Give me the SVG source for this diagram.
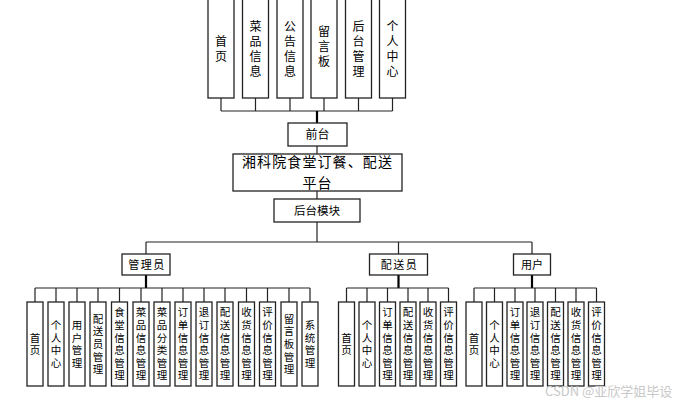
<svg xmlns="http://www.w3.org/2000/svg" width="674" height="404" viewBox="0 0 674 404">
<style>
.b{fill:#fff;stroke:#222;stroke-width:1.3}
.t{font-family:"Noto Sans CJK SC","Liberation Sans",sans-serif;fill:#000;text-anchor:middle}
.v{writing-mode:vertical-rl;text-anchor:middle}
.s{font-size:10.5px;letter-spacing:2.1px}
.m{font-size:12px;letter-spacing:3px}
.c{fill:none;stroke:#222;stroke-width:1.2}
.k{fill:none;stroke:#000;stroke-width:2.2}
</style>
<rect width="674" height="404" fill="#fff"/>
<g id="connectors">
<path class="c" d="M221 98V111M255.5 98V111M290 98V111M324 98V111M358.5 98V111M392.5 98V111M221 111H392.5"/>
<path class="k" d="M317 111V123"/>
<path class="c" d="M317 146V154M317 191V199M317 222V242M146 242H532M146 242V254M398.5 242V254M532 242V254"/>
<path class="k" d="M146 275V288M398.5 275V288M532 275V288"/>
<path class="c" d="M35 288H310M35 288V302M56 288V302M77 288V302M98 288V302M119.5 288V302M141 288V302M162 288V302M183 288V302M204 288V302M225 288V302M246.5 288V302M267.5 288V302M289 288V302M310 288V302"/>
<path class="c" d="M346.5 288H448.5M346.5 288V302M367 288V302M387.5 288V302M408 288V302M428 288V302M448.5 288V302"/>
<path class="c" d="M474 288H596.5M474 288V302M494.5 288V302M515 288V302M535 288V302M555.5 288V302M576 288V302M596.5 288V302"/>
</g>
<g id="top-shouye"><rect class="b" x="208" y="-2" width="26" height="100"/><text class="t v m" x="221" y="50">首页</text></g>
<g id="top-caipin"><rect class="b" x="242.5" y="-2" width="26" height="100"/><text class="t v m" x="255.5" y="50">菜品信息</text></g>
<g id="top-gonggao"><rect class="b" x="277" y="-2" width="26" height="100"/><text class="t v m" x="290" y="50">公告信息</text></g>
<g id="top-liuyan"><rect class="b" x="311" y="-2" width="26" height="100"/><text class="t v m" x="324" y="48">留言板</text></g>
<g id="top-houtai"><rect class="b" x="345.5" y="-2" width="26" height="100"/><text class="t v m" x="358.5" y="50">后台管理</text></g>
<g id="top-geren"><rect class="b" x="379.5" y="-2" width="26" height="100"/><text class="t v m" x="392.5" y="50">个人中心</text></g>
<g id="qiantai"><rect class="b" x="288" y="123" width="59" height="23"/><text class="t" style="font-size:12px" x="317.5" y="139">前台</text></g>
<g id="platform"><rect class="b" x="233" y="154" width="169" height="37"/><text class="t" style="font-size:14px;letter-spacing:1.1px"><tspan x="317.5" y="167">湘科院食堂订餐、配送</tspan><tspan x="317.5" y="188">平台</tspan></text></g>
<g id="houtai"><rect class="b" x="274" y="199" width="86" height="23"/><text class="t" style="font-size:11.5px" x="317" y="215">后台模块</text></g>
<g id="admin"><rect class="b" x="122" y="254" width="48" height="21"/><text class="t" style="font-size:11px;letter-spacing:1.5px" x="147" y="268.5">管理员</text></g>
<g id="courier"><rect class="b" x="369.5" y="254" width="58" height="21"/><text class="t" style="font-size:11px;letter-spacing:1.5px" x="399.5" y="268.5">配送员</text></g>
<g id="user"><rect class="b" x="513.5" y="254" width="37" height="21"/><text class="t" style="font-size:11px" x="532" y="268.5">用户</text></g>
<g id="a1"><rect class="b" x="27" y="302" width="16" height="84"/><text class="t v s" x="35" y="345">首页</text></g>
<g id="a2"><rect class="b" x="48" y="302" width="16" height="84"/><text class="t v s" x="56" y="345">个人中心</text></g>
<g id="a3"><rect class="b" x="69" y="302" width="16" height="84"/><text class="t v s" x="77" y="345">用户管理</text></g>
<g id="a4"><rect class="b" x="90" y="302" width="16" height="84"/><text class="t v s" x="98" y="345">配送员管理</text></g>
<g id="a5"><rect class="b" x="111.5" y="302" width="16" height="84"/><text class="t v s" x="119.5" y="345">食堂信息管理</text></g>
<g id="a6"><rect class="b" x="133" y="302" width="16" height="84"/><text class="t v s" x="141" y="345">菜品信息管理</text></g>
<g id="a7"><rect class="b" x="154" y="302" width="16" height="84"/><text class="t v s" x="162" y="345">菜品分类管理</text></g>
<g id="a8"><rect class="b" x="175" y="302" width="16" height="84"/><text class="t v s" x="183" y="345">订单信息管理</text></g>
<g id="a9"><rect class="b" x="196" y="302" width="16" height="84"/><text class="t v s" x="204" y="345">退订信息管理</text></g>
<g id="a10"><rect class="b" x="217" y="302" width="16" height="84"/><text class="t v s" x="225" y="345">配送信息管理</text></g>
<g id="a11"><rect class="b" x="238.5" y="302" width="16" height="84"/><text class="t v s" x="246.5" y="345">收货信息管理</text></g>
<g id="a12"><rect class="b" x="259.5" y="302" width="16" height="84"/><text class="t v s" x="267.5" y="345">评价信息管理</text></g>
<g id="a13"><rect class="b" x="281" y="302" width="16" height="84"/><text class="t v s" x="289" y="345">留言板管理</text></g>
<g id="a14"><rect class="b" x="302" y="302" width="16" height="84"/><text class="t v s" x="310" y="345">系统管理</text></g>
<g id="c1"><rect class="b" x="338.5" y="302" width="16" height="84"/><text class="t v s" x="346.5" y="345">首页</text></g>
<g id="c2"><rect class="b" x="359" y="302" width="16" height="84"/><text class="t v s" x="367" y="345">个人中心</text></g>
<g id="c3"><rect class="b" x="379.5" y="302" width="16" height="84"/><text class="t v s" x="387.5" y="345">订单信息管理</text></g>
<g id="c4"><rect class="b" x="400" y="302" width="16" height="84"/><text class="t v s" x="408" y="345">配送信息管理</text></g>
<g id="c5"><rect class="b" x="420" y="302" width="16" height="84"/><text class="t v s" x="428" y="345">收货信息管理</text></g>
<g id="c6"><rect class="b" x="440.5" y="302" width="16" height="84"/><text class="t v s" x="448.5" y="345">评价信息管理</text></g>
<g id="u1"><rect class="b" x="466" y="302" width="16" height="84"/><text class="t v s" x="474" y="345">首页</text></g>
<g id="u2"><rect class="b" x="486.5" y="302" width="16" height="84"/><text class="t v s" x="494.5" y="345">个人中心</text></g>
<g id="u3"><rect class="b" x="507" y="302" width="16" height="84"/><text class="t v s" x="515" y="345">订单信息管理</text></g>
<g id="u4"><rect class="b" x="527" y="302" width="16" height="84"/><text class="t v s" x="535" y="345">退订信息管理</text></g>
<g id="u5"><rect class="b" x="547.5" y="302" width="16" height="84"/><text class="t v s" x="555.5" y="345">配送信息管理</text></g>
<g id="u6"><rect class="b" x="568" y="302" width="16" height="84"/><text class="t v s" x="576" y="345">收货信息管理</text></g>
<g id="u7"><rect class="b" x="588.5" y="302" width="16" height="84"/><text class="t v s" x="596.5" y="345">评价信息管理</text></g>
<text x="545" y="396" style="font-family:'Noto Sans CJK SC','Liberation Sans',sans-serif;font-size:13px;fill:#c8c8c8">CSDN @亚欣学姐毕设</text>
</svg>
